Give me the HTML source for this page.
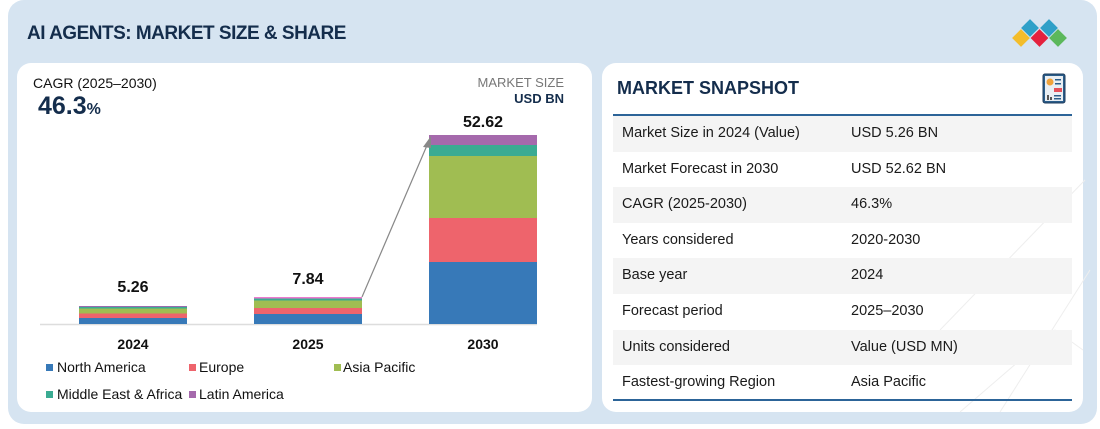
<!DOCTYPE html>
<html><head><meta charset="utf-8"><style>
*{margin:0;padding:0;box-sizing:border-box}
body{width:1100px;height:429px;background:#fff;font-family:"Liberation Sans",sans-serif;position:relative;overflow:hidden}
.outer{position:absolute;left:8px;top:0;width:1089px;height:424px;background:#d6e4f1;border-radius:16px}
.card{position:absolute;background:#fff;border-radius:14px}
.t{position:absolute;white-space:nowrap}
.row{position:absolute;left:613px;width:459px;height:35.6px;font-size:14.5px;color:#1a1a1a}
.row span{position:absolute;top:9px}
.g{background:#f4f4f4}
</style></head><body>
<div class="outer"></div>
<div class="t" style="left:27px;top:23px;font-size:19px;font-weight:bold;color:#142d4c;letter-spacing:-0.5px">AI AGENTS: MARKET SIZE &amp; SHARE</div>
<svg style="position:absolute;left:0;top:0" width="1100" height="429">
<g transform="translate(1021,38) rotate(45)"><rect x="-6.3" y="-6.3" width="12.6" height="12.6" fill="#f3bd2b"/></g>
<g transform="translate(1030,28) rotate(45)"><rect x="-6.3" y="-6.3" width="12.6" height="12.6" fill="#2fa0c8"/></g>
<g transform="translate(1039.5,38) rotate(45)"><rect x="-6.3" y="-6.3" width="12.6" height="12.6" fill="#e4213e"/></g>
<g transform="translate(1049,28) rotate(45)"><rect x="-6.3" y="-6.3" width="12.6" height="12.6" fill="#2fa0c8"/></g>
<g transform="translate(1058,38) rotate(45)"><rect x="-6.3" y="-6.3" width="12.6" height="12.6" fill="#5cb85c"/></g>
</svg>
<div class="card" style="left:17px;top:63px;width:575px;height:349px"></div>
<div class="card" style="left:602px;top:63px;width:481px;height:349px"></div>
<div class="t" style="left:33px;top:75px;font-size:14px;color:#111">CAGR (2025–2030)</div>
<div class="t" style="left:38px;top:92px;font-size:25px;font-weight:bold;color:#142d4c">46.3<span style="font-size:16px">%</span></div>
<div class="t" style="left:470px;top:75px;width:94px;text-align:right;font-size:13px;color:#777">MARKET SIZE</div>
<div class="t" style="left:470px;top:91px;width:94px;text-align:right;font-size:13px;font-weight:bold;color:#142d4c">USD BN</div>
<svg style="position:absolute;left:0;top:0" width="1100" height="429">
<line x1="40" y1="324.5" x2="537" y2="324.5" stroke="#ddd" stroke-width="1.5"/>
<rect x="79" y="306" width="108" height="2" fill="#9b6aae"/>
<rect x="79" y="307" width="108" height="1.5" fill="#3aab92"/>
<rect x="79" y="308.5" width="108" height="5" fill="#a0bd52"/>
<rect x="79" y="313.5" width="108" height="4.5" fill="#ee646c"/>
<rect x="79" y="318" width="108" height="6" fill="#3779b8"/>
<rect x="254" y="297" width="108" height="1.5" fill="#ee7ad0"/>
<rect x="254" y="298.5" width="108" height="2" fill="#3aab92"/>
<rect x="254" y="300.5" width="108" height="7.5" fill="#a0bd52"/>
<rect x="254" y="308" width="108" height="6" fill="#ee646c"/>
<rect x="254" y="314" width="108" height="10" fill="#3779b8"/>
<rect x="429" y="135" width="108" height="10" fill="#a569ac"/>
<rect x="429" y="145" width="108" height="11" fill="#3aab92"/>
<rect x="429" y="156" width="108" height="62" fill="#a0bd52"/>
<rect x="429" y="218" width="108" height="44" fill="#ee646c"/>
<rect x="429" y="262" width="108" height="62" fill="#3779b8"/>
<line x1="362" y1="297" x2="428" y2="143" stroke="#888" stroke-width="1.2"/>
<polygon points="431,136 423,147 431,148" fill="#888"/>
<text x="133" y="292" font-size="16" font-weight="bold" text-anchor="middle" fill="#111">5.26</text>
<text x="308" y="284" font-size="16" font-weight="bold" text-anchor="middle" fill="#111">7.84</text>
<text x="483" y="127" font-size="16" font-weight="bold" text-anchor="middle" fill="#111">52.62</text>
<text x="133" y="349" font-size="14" font-weight="bold" text-anchor="middle" fill="#111">2024</text>
<text x="308" y="349" font-size="14" font-weight="bold" text-anchor="middle" fill="#111">2025</text>
<text x="483" y="349" font-size="14" font-weight="bold" text-anchor="middle" fill="#111">2030</text>
<rect x="46" y="364" width="7" height="7" fill="#3779b8"/><text x="57" y="372" font-size="14" fill="#111">North America</text>
<rect x="189" y="364" width="7" height="7" fill="#ee646c"/><text x="199" y="372" font-size="14" fill="#111">Europe</text>
<rect x="334" y="364" width="7" height="7" fill="#a0bd52"/><text x="343" y="372" font-size="14" fill="#111">Asia Pacific</text>
<rect x="46" y="391" width="7" height="7" fill="#3aab92"/><text x="57" y="399" font-size="14" fill="#111">Middle East &amp; Africa</text>
<rect x="189" y="391" width="7" height="7" fill="#a569ac"/><text x="199" y="399" font-size="14" fill="#111">Latin America</text>
<g stroke="#eeeeee" stroke-width="1" fill="none">
<polyline points="960,412 1055,330 1083,350"/>
<polyline points="1000,412 1090,270"/>
<polyline points="940,330 1085,180"/>
</g>
<rect x="1043" y="74" width="22" height="29" rx="2" fill="#2a5d8a" stroke="#1e3b5c"/>
<rect x="1045" y="76" width="18" height="25" fill="#e9eef3"/>
<circle cx="1050" cy="82" r="3.5" fill="#f0a23a"/>
<rect x="1055" y="79" width="6" height="1.5" fill="#2a5d8a"/><rect x="1055" y="83" width="6" height="1.5" fill="#2a5d8a"/>
<rect x="1054" y="88" width="8" height="4" fill="#e4505a"/>
<rect x="1047" y="95" width="2" height="5" fill="#555"/><rect x="1050" y="97" width="2" height="3" fill="#555"/>
<rect x="1054" y="95" width="7" height="1.5" fill="#2a5d8a"/><rect x="1054" y="98" width="7" height="1.5" fill="#2a5d8a"/>
</svg>
<div class="t" style="left:617px;top:78px;font-size:18px;font-weight:bold;color:#142d4c">MARKET SNAPSHOT</div>
<div style="position:absolute;left:613px;top:114px;width:459px;height:2px;background:#2c6498"></div>
<div class="row g" style="top:116px"><span style="left:9px">Market Size in 2024 (Value)</span><span style="left:238px">USD 5.26 BN</span></div>
<div class="row" style="top:151.6px"><span style="left:9px">Market Forecast in 2030</span><span style="left:238px">USD 52.62 BN</span></div>
<div class="row g" style="top:187.2px"><span style="left:9px">CAGR (2025-2030)</span><span style="left:238px">46.3%</span></div>
<div class="row" style="top:222.8px"><span style="left:9px">Years considered</span><span style="left:238px">2020-2030</span></div>
<div class="row g" style="top:258.4px"><span style="left:9px">Base year</span><span style="left:238px">2024</span></div>
<div class="row" style="top:294px"><span style="left:9px">Forecast period</span><span style="left:238px">2025–2030</span></div>
<div class="row g" style="top:329.6px"><span style="left:9px">Units considered</span><span style="left:238px">Value (USD MN)</span></div>
<div class="row" style="top:365.2px"><span style="left:9px">Fastest-growing Region</span><span style="left:238px">Asia Pacific</span></div>
<div style="position:absolute;left:613px;top:399px;width:459px;height:2px;background:#2c6498"></div>
</body></html>
